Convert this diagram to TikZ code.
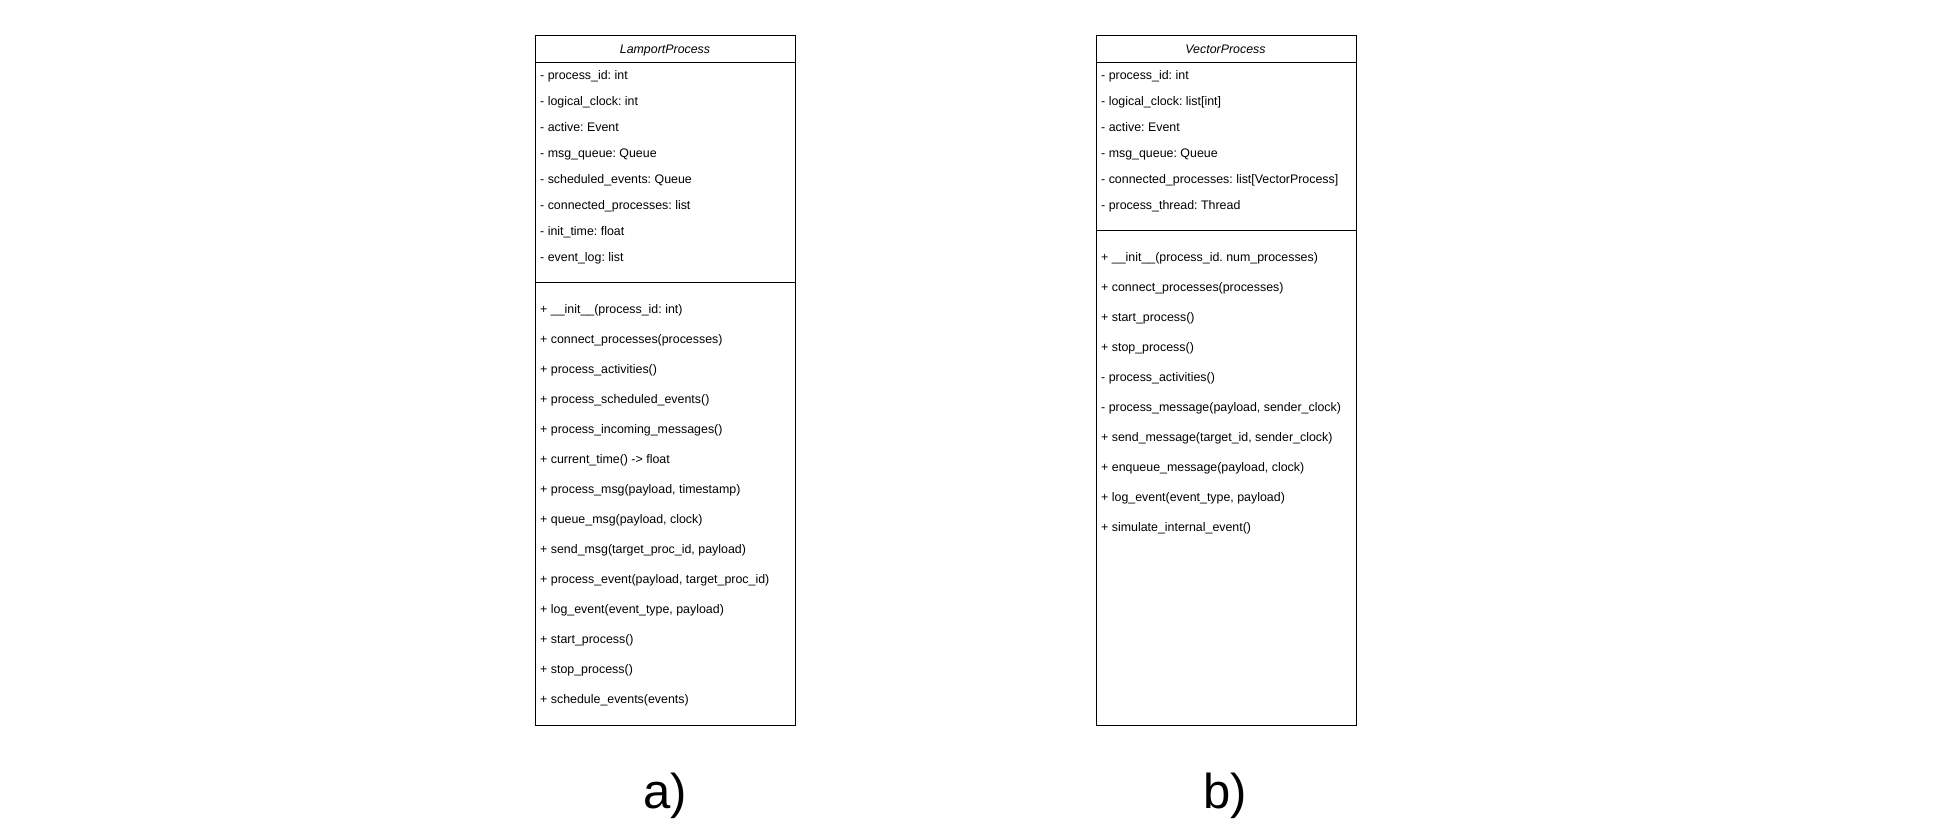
\documentclass[tikz,border=0pt]{standalone}
\usepackage{fontspec}
\setmainfont{Liberation Sans}
\frenchspacing
\begin{document}
\begin{tikzpicture}[x=1pt,y=-1pt]
\tikzset{
 part/.style={draw=black, line width=1pt, minimum width=260pt, inner sep=0pt, anchor=north west, rectangle},
 member/.style={anchor=base west, inner sep=0pt, font=\fontsize{12.4}{14}\selectfont},
 ctitle/.style={anchor=base, inner sep=0pt, font=\fontsize{12.4}{14}\selectfont\itshape},
 caption/.style={anchor=base, inner sep=0pt, font=\fontsize{49}{56}\selectfont}
}
\useasboundingbox[fill=white] (0,0) rectangle (1940,830);

% ---- a) LamportProcess ----
\node[part, minimum height=26.7pt] (aT) at (535,35) {};
\node[part, minimum height=220.6pt] (aA) at (535,61.7) {};
\node[part, minimum height=442.7pt] (aM) at (535,282.3) {};
\node[ctitle] (aTt) at (665,53.4) {LamportProcess};

\node[member] (aa1) at (540,79.3) {- process\_id: int};
\node[member] (aa2) at (540,105.3) {- logical\_clock: int};
\node[member] (aa3) at (540,131.3) {- active: Event};
\node[member] (aa4) at (540,157.3) {- msg\_queue: Queue};
\node[member] (aa5) at (540,183.3) {- scheduled\_events: Queue};
\node[member] (aa6) at (540,209.3) {- connected\_processes: list};
\node[member] (aa7) at (540,235.3) {- init\_time: float};
\node[member] (aa8) at (540,261.3) {- event\_log: list};

\node[member] (am1) at (540,313.6) {+ \_\_init\_\_(process\_id: int)};
\node[member] (am2) at (540,343.6) {+ connect\_processes(processes)};
\node[member] (am3) at (540,373.6) {+ process\_activities()};
\node[member] (am4) at (540,403.6) {+ process\_scheduled\_events()};
\node[member] (am5) at (540,433.6) {+ process\_incoming\_messages()};
\node[member] (am6) at (540,463.6) {+ current\_time() -> float};
\node[member] (am7) at (540,493.6) {+ process\_msg(payload, timestamp)};
\node[member] (am8) at (540,523.6) {+ queue\_msg(payload, clock)};
\node[member] (am9) at (540,553.6) {+ send\_msg(target\_proc\_id, payload)};
\node[member] (am10) at (540,583.6) {+ process\_event(payload, target\_proc\_id)};
\node[member] (am11) at (540,613.6) {+ log\_event(event\_type, payload)};
\node[member] (am12) at (540,643.6) {+ start\_process()};
\node[member] (am13) at (540,673.6) {+ stop\_process()};
\node[member] (am14) at (540,703.6) {+ schedule\_events(events)};

\node[caption] (acap) at (665.5,808) {a)};

% ---- b) VectorProcess ----
\node[part, minimum height=26.7pt] (bT) at (1095.5,35) {};
\node[part, minimum height=168.6pt] (bA) at (1095.5,61.7) {};
\node[part, minimum height=494.7pt] (bM) at (1095.5,230.3) {};
\node[ctitle] (bTt) at (1225.5,53.4) {VectorProcess};

\node[member] (ba1) at (1101,79.3) {- process\_id: int};
\node[member] (ba2) at (1101,105.3) {- logical\_clock: list[int]};
\node[member] (ba3) at (1101,131.3) {- active: Event};
\node[member] (ba4) at (1101,157.3) {- msg\_queue: Queue};
\node[member] (ba5) at (1101,183.3) {- connected\_processes: list[VectorProcess]};
\node[member] (ba6) at (1101,209.3) {- process\_thread: Thread};

\node[member] (bm1) at (1101,261.3) {+ \_\_init\_\_(process\_id. num\_processes)};
\node[member] (bm2) at (1101,291.3) {+ connect\_processes(processes)};
\node[member] (bm3) at (1101,321.3) {+ start\_process()};
\node[member] (bm4) at (1101,351.3) {+ stop\_process()};
\node[member] (bm5) at (1101,381.3) {- process\_activities()};
\node[member] (bm6) at (1101,411.3) {- process\_message(payload, sender\_clock)};
\node[member] (bm7) at (1101,441.3) {+ send\_message(target\_id, sender\_clock)};
\node[member] (bm8) at (1101,471.3) {+ enqueue\_message(payload, clock)};
\node[member] (bm9) at (1101,501.3) {+ log\_event(event\_type, payload)};
\node[member] (bm10) at (1101,531.3) {+ simulate\_internal\_event()};

\node[caption] (bcap) at (1225.5,808) {b)};
\end{tikzpicture}
\end{document}
